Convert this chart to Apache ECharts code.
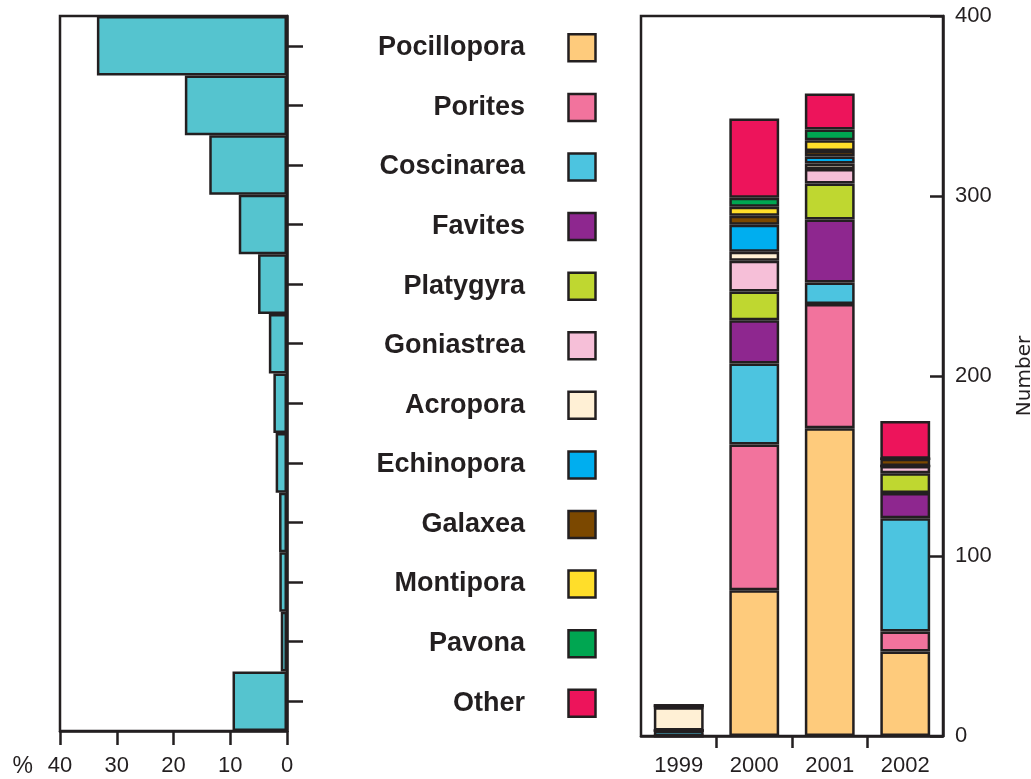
<!DOCTYPE html>
<html>
<head>
<meta charset="utf-8">
<script src="https://cdn.jsdelivr.net/npm/echarts@6/dist/echarts.min.js"></script>
<style>html,body{margin:0;padding:0;background:#fff;}#c{width:1031px;height:779px;}</style>
</head>
<body>
<div id="c"></div>
<script>
// ---- data ----
const species = ['Pocillopora','Porites','Coscinarea','Favites','Platygyra','Goniastrea','Acropora','Echinopora','Galaxea','Montipora','Pavona','Other'];
const speciesColors = ['#fecb7c','#f2739d','#4cc4e0','#8e278f','#bfd730','#f6bfd8','#fff0d5','#00aeef','#7b4800','#ffde2a','#00a651','#ed145b'];
const percentShare = [33.5, 18, 13.7, 8.5, 5.1, 3.2, 2.4, 2.0, 1.4, 1.35, 1.1, 9.6];
const percentTicks = [0, 10, 20, 30, 40];
const years = ['1999','2000','2001','2002'];
const yearDividers = [1, 2, 3];
const countTicks = [0, 100, 200, 300, 400];
// counts per species, per year (1999, 2000, 2001, 2002)
const pocillopora = [0, 81, 171, 47];
const porites     = [0, 81, 69, 11];
const coscinarea  = [3, 45, 12, 63];
const favites     = [0, 24, 35, 14];
const platygyra   = [0, 16, 20, 11];
const goniastrea  = [0, 17, 8, 4];
const acropora    = [13, 5, 3, 0];
const echinopora  = [0, 15, 4, 0];
const galaxea     = [1, 5, 3, 4];
const montipora   = [0, 5, 6, 0];
const pavona      = [0, 5, 6, 0];
const other       = [0, 44, 20, 21];
const counts = [pocillopora, porites, coscinarea, favites, platygyra, goniastrea, acropora, echinopora, galaxea, montipora, pavona, other];

const dark = '#231f20';
const font = 'Liberation Sans';
const lw = 2.5;

const chart = echarts.init(document.getElementById('c'));
const option = {
  animation: false,
  backgroundColor: '#fff',
  textStyle: {fontFamily: font, color: dark},
  grid: [
    {left: 60, right: 1031 - 287, top: 16, bottom: 779 - 731, show: true, borderColor: dark, borderWidth: lw, backgroundColor: 'transparent', outerBoundsMode: 'none', containLabel: false},
    {left: 560, width: 44, top: 18, bottom: 779 - 733, outerBoundsMode: 'none', containLabel: false},
    {left: 641, right: 1031 - 943, top: 16, bottom: 779 - 736, show: true, borderColor: dark, borderWidth: lw, backgroundColor: 'transparent', outerBoundsMode: 'none', containLabel: false}
  ],
  xAxis: [
    {gridIndex: 0, type: 'value', inverse: true, min: percentTicks[0], max: percentTicks[percentTicks.length - 1], interval: 10,
     position: 'bottom',
     name: '%', nameLocation: 'end', nameGap: 27,
     nameTextStyle: {fontSize: 23, fontFamily: font, color: dark, verticalAlign: 'top', padding: [24, 0, 0, 0]},
     axisLine: {show: true, onZero: false, lineStyle: {color: dark, width: lw}},
     axisTick: {show: true, length: 14, lineStyle: {color: dark, width: lw}},
     axisLabel: {fontSize: 22, fontFamily: font, color: dark, margin: 24},
     splitLine: {show: false}},
    {gridIndex: 1, type: 'value', min: 0, max: 1, show: false},
    {gridIndex: 2, type: 'category', data: years,
     axisLine: {show: true, onZero: false, lineStyle: {color: dark, width: lw}},
     axisTick: {show: false},
     axisLabel: {fontSize: 22, fontFamily: font, color: dark, margin: 19, interval: 0}},
    {gridIndex: 2, type: 'value', min: 0, max: years.length, position: 'bottom',
     axisLine: {show: false, onZero: false},
     axisTick: {show: true, length: 12, customValues: yearDividers, lineStyle: {color: dark, width: lw}},
     axisLabel: {show: false},
     splitLine: {show: false}}
  ],
  yAxis: [
    {gridIndex: 0, type: 'category', data: species, inverse: true, position: 'right',
     axisLine: {show: true, onZero: false, lineStyle: {color: dark, width: lw}},
     axisTick: {show: true, alignWithLabel: true, length: 16, lineStyle: {color: dark, width: lw}},
     axisLabel: {show: false}},
    {gridIndex: 1, type: 'category', data: species, inverse: true, position: 'left',
     axisLine: {show: false, onZero: false}, axisTick: {show: false},
     axisLabel: {fontSize: 27, fontWeight: 'bold', fontFamily: font, color: dark, margin: 35}},
    {gridIndex: 2, type: 'value', min: countTicks[0], max: countTicks[countTicks.length - 1], interval: 100, position: 'right',
     name: 'Number', nameLocation: 'middle', nameGap: 72, nameRotate: 90,
     nameTextStyle: {fontSize: 20, fontFamily: 'DejaVu Sans', color: dark},
     axisLine: {show: true, onZero: false, lineStyle: {color: dark, width: lw}},
     axisTick: {show: true, inside: true, length: 13, lineStyle: {color: dark, width: lw}},
     axisLabel: {fontSize: 22, fontFamily: font, color: dark, margin: 12},
     splitLine: {show: false}}
  ],
  series: [
    {type: 'bar', xAxisIndex: 0, yAxisIndex: 0, data: percentShare, barCategoryGap: '0%', barWidth: '100%',
     itemStyle: {color: '#55c4cf', borderColor: dark, borderWidth: lw}},
    {type: 'scatter', xAxisIndex: 1, yAxisIndex: 1, symbol: 'rect', symbolSize: 27,
     data: species.map((s, i) => ({value: [0.5, s], itemStyle: {color: speciesColors[i]}})),
     itemStyle: {borderColor: dark, borderWidth: lw, opacity: 1}}
  ].concat(species.map((s, i) => ({
    type: 'bar', name: s, xAxisIndex: 2, yAxisIndex: 2, stack: 'total', data: counts[i],
    barWidth: '66%',
    itemStyle: {color: speciesColors[i], borderColor: dark, borderWidth: lw}
  })))
};
chart.setOption(option);
</script>
</body>
</html>
